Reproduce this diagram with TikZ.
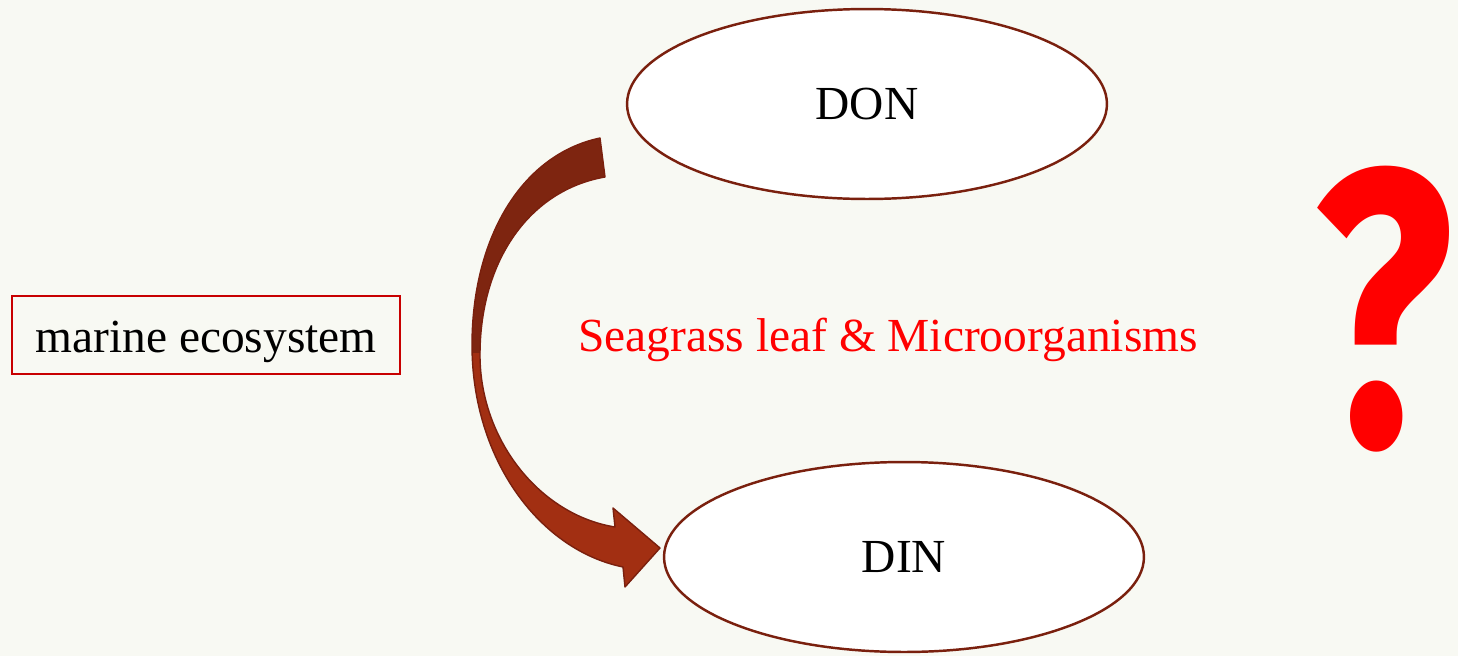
\documentclass[tikz,border=0pt]{standalone}
\usepackage{fontspec}
\setmainfont{Liberation Serif}
\newfontfamily\qmfont{Fira Sans}
\usetikzlibrary{shapes.geometric}

\definecolor{bgcol}{RGB}{248,249,243}
\definecolor{ringcol}{RGB}{122,32,14}
\definecolor{arrowdark}{RGB}{126,37,16}
\definecolor{arrowlight}{RGB}{162,47,18}
\definecolor{boxred}{RGB}{200,0,0}

\begin{document}
\begin{tikzpicture}[x=0.02cm,y=-0.02cm]
\tikzset{every node/.style={font=\fontsize{27}{32}\selectfont}}
\tikzset{pool/.style={ellipse,draw=ringcol,line width=1.4pt,fill=white,
  minimum width=9.6cm,minimum height=3.8cm,inner sep=0pt}}
\tikzset{labelbox/.style={draw=boxred,line width=0.8pt,minimum width=7.76cm,
  minimum height=1.56cm,inner sep=0pt,text height=19.4pt,text depth=0pt}}
\useasboundingbox (0,0) rectangle (1458,656);
\fill [bgcol] (0,0) rectangle (1458,656);
% nitrogen pools
\node [pool] (don) at (867,104) {DON};
\node [pool] (din) at (904,557) {DIN};
\node [labelbox] (eco) at (206,335) {marine ecosystem};
\node [red,anchor=base] (agent) at (888,351) {Seagrass leaf \& Microorganisms};
\node [red,font=\qmfont\bfseries\fontsize{224}{224}\selectfont,xscale=0.74,inner sep=0pt] (ask) at (1384,309) {?};
% curved block arrow from DON down to DIN
\coordinate (tailA) at (600,138);
\coordinate (tailB) at (605,177);
\coordinate (neckA) at (623,567);
\coordinate (neckB) at (615,527);
\coordinate (barbA) at (625,587);
\coordinate (barbB) at (613,508);
\coordinate (tip) at (660,548);
\def\arrowpath{(tailA) .. controls (520,155) and (472,240) .. (472,345)
  .. controls (472,460) and (540,550) .. (neckA) -- (barbA) -- (tip) -- (barbB)
  -- (neckB) .. controls (540,515) and (480,440) .. (480,355)
  .. controls (480,260) and (530,190) .. (tailB) -- cycle}
\fill [arrowlight] \arrowpath;
\begin{scope}
\clip (440,120) rectangle (700,352);
\fill [arrowdark] \arrowpath;
\end{scope}
\draw [ringcol,line width=0.8pt,line join=round] \arrowpath;
\end{tikzpicture}
\end{document}
